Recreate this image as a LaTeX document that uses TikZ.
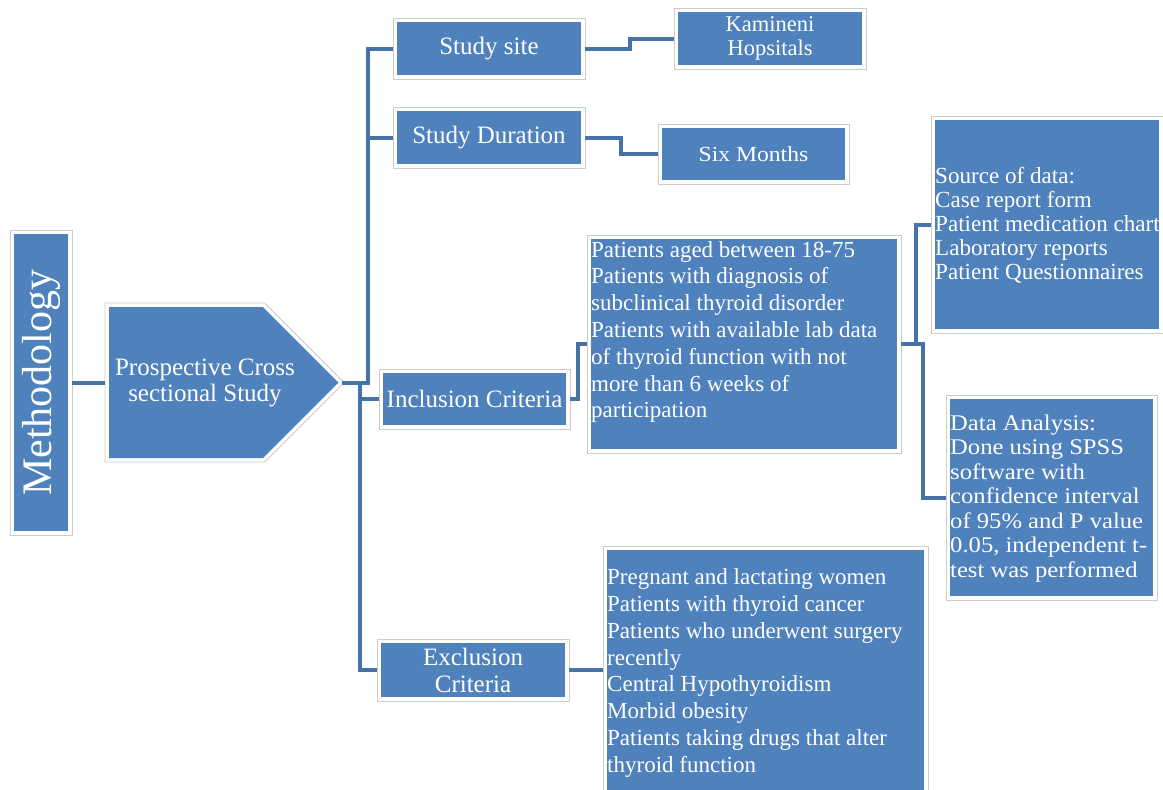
\documentclass[tikz,border=0pt]{standalone}
\usepackage{fontspec}
\usepackage{graphicx}
\setmainfont{Liberation Serif}
\newfontfamily\cambriafont[FakeStretch=1.1]{Liberation Serif}
\definecolor{boxblue}{HTML}{4F81BD}
\definecolor{connblue}{HTML}{4572A7}
\begin{document}
\begin{tikzpicture}[x=1pt,y=-1pt,
  box/.style={rectangle, fill=boxblue, text=white, inner sep=0pt, outer sep=4pt, align=center,
    font=\fontsize{25}{27}\selectfont},
  txt/.style={text=white, inner sep=0pt, align=left},
  conn/.style={draw=connblue, line width=4pt},
  rim/.style={draw=black!20, line width=0.8pt}]
\useasboundingbox (0,0) rectangle (1163,790);

% Methodology
\node[box, minimum width=54, minimum height=297, font=\fontsize{42}{44}\selectfont] (meth) at (41,382.5) {\rotatebox{90}{Methodology}};

% Prospective pentagon
\draw[rim] (105,303) -- (264.7,303) -- (344.3,382.5) -- (264.7,462) -- (105,462) -- cycle;
\fill[boxblue] (109,307) -- (263,307) -- (338.5,382.5) -- (263,458) -- (109,458) -- cycle;
\node[txt, align=center, font=\fontsize{25}{26}\selectfont] (pcs) at (205,382.5) {Prospective Cross\\sectional Study};
\coordinate (pcsW) at (105,382.5);
\coordinate (tip) at (342,382.5);

% second level
\node[box, minimum width=184, minimum height=53] (site) at (489,48.5) {Study site};
\node[box, minimum width=184, minimum height=53] (dur) at (489,137.5) {Study Duration};
\node[box, minimum width=183, minimum height=52] (inc) at (474.5,399) {Inclusion Criteria};
\node[box, minimum width=184, minimum height=54] (exc) at (473,670) {Exclusion\\Criteria};

% third level
\node[box, minimum width=184, minimum height=53, font=\fontsize{22.5}{24}\selectfont] (kam) at (770,38.5) {Kamineni\\Hopsitals};
\node[box, minimum width=183, minimum height=52, font={\cambriafont\fontsize{21.5}{24}\selectfont}] (six) at (753.5,154) {Six Months};
\node[box, minimum width=306, minimum height=210] (inctext) at (744,344) {};
\node[txt, anchor=west, font=\fontsize{23}{26.8}\selectfont] (inclabel) at (591,332)
  {Patients aged between 18-75\\Patients with diagnosis of\\subclinical thyroid disorder\\Patients with available lab data\\of thyroid function with not\\more than 6 weeks of\\participation};
\node[box, minimum width=317, minimum height=240] (exctext) at (765.5,670) {};
\node[txt, anchor=west, font=\fontsize{23}{26.8}\selectfont] (exclabel) at (607,673)
  {Pregnant and lactating women\\Patients with thyroid cancer\\Patients who underwent surgery\\recently\\Central Hypothyroidism\\Morbid obesity\\Patients taking drugs that alter\\thyroid function};

% fourth level
\node[box, minimum width=224, minimum height=209] (src) at (1047,224.5) {};
\node[txt, anchor=west, font=\fontsize{23.1}{24}\selectfont] (srclabel) at (935,225.5)
  {Source of data:\\Case report form\\Patient medication chart\\Laboratory reports\\Patient Questionnaires};
\node[box, minimum width=203, minimum height=197] (da) at (1051.5,497.5) {};
\node[txt, anchor=west, font={\cambriafont\fontsize{22.4}{24.5}\selectfont}] (dalabel) at (950,498.5)
  {Data Analysis:\\Done using SPSS\\software with\\confidence interval\\of 95\% and P value\\0.05, independent t-\\test was performed};

% rims
\foreach \n in {meth,site,dur,inc,exc,kam,six,inctext,exctext,src,da}
  \draw[rim] (\n.north west) rectangle (\n.south east);

% connectors
\draw[conn] (meth.east) -- (pcsW);
\draw[conn] (tip) -- ++(26,0) |- (site.west);
\draw[conn] (tip) -- ++(26,0) |- (dur.west);
\draw[conn] (tip) -- ++(18,0) |- (inc.west);
\draw[conn] (tip) -- ++(18,0) |- (exc.west);
\draw[conn] (site.east) -- ++(45,0) |- (kam.west);
\draw[conn] (dur.east) -- ++(36,0) |- (six.west);
\draw[conn] (inc.east) -- ++(8,0) |- (inctext.west);
\draw[conn] (exc.east) -- (exctext.west);
\draw[conn] (inctext.east) -- ++(15,0) |- (src.west);
\draw[conn] (inctext.east) -- ++(22,0) |- (da.west);
\end{tikzpicture}
\end{document}
